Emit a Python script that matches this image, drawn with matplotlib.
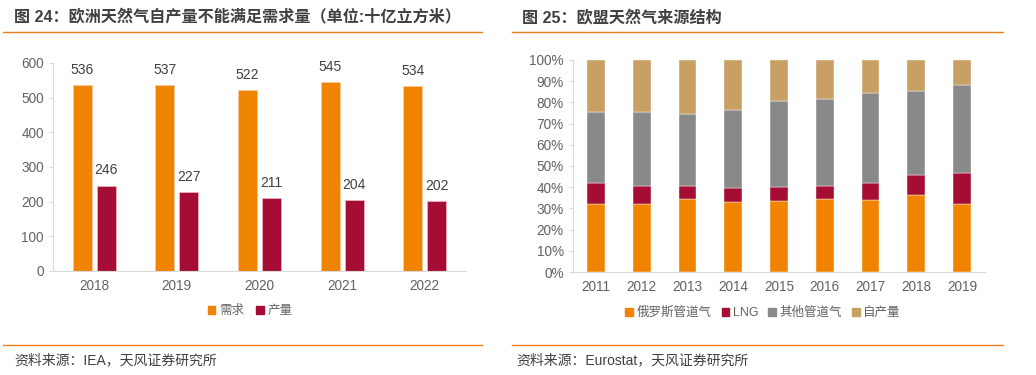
import matplotlib.pyplot as plt
from matplotlib.patches import Patch
from matplotlib.lines import Line2D
import numpy as np

plt.rcParams['font.family'] = ['Liberation Sans', 'Noto Sans CJK SC', 'DejaVu Sans']

# left chart data
years_l = ['2018', '2019', '2020', '2021', '2022']
demand = [536, 537, 522, 545, 534]
production = [246, 227, 211, 204, 202]

# right chart data (shares in %)
years_r = ['2011', '2012', '2013', '2014', '2015', '2016', '2017', '2018', '2019']
russia = [32.2, 32.2, 34.4, 33.0, 33.6, 34.2, 33.9, 36.1, 31.9]
lng = [10.0, 8.5, 6.4, 6.4, 6.7, 6.6, 8.2, 9.6, 14.7]
other_pipe = [33.5, 34.7, 33.9, 36.9, 40.2, 40.7, 42.5, 39.7, 41.6]
own_prod = [100 - a - b - c for a, b, c in zip(russia, lng, other_pipe)]

orange = '#F08300'
red = '#A50D34'
grey = '#898989'
tan = '#C8A064'
txt = '#636363'
line_c = '#EE7D1E'

W, H = 1036, 375
fig = plt.figure(figsize=(W / 100, H / 100), dpi=100)

def px(x0, y_top, w, h):
    return [x0 / W, (H - y_top - h) / H, w / W, h / H]

# titles, separators, sources
fig.text(14 / W, 1 - 17 / H, '图 24：欧洲天然气自产量不能满足需求量（单位:十亿立方米）',
         fontsize=11.6, fontweight='bold', color='#404040', va='center')
fig.text(522 / W, 1 - 17 / H, '图 25：欧盟天然气来源结构',
         fontsize=11.6, fontweight='bold', color='#404040', va='center')
for x0, x1 in [(3, 482), (512, 1003)]:
    for yy in [32, 345]:
        fig.add_artist(Line2D([x0 / W, x1 / W], [1 - yy / H, 1 - yy / H], color=line_c, lw=1.0))
fig.text(14 / W, 1 - 360 / H, '资料来源：IEA，天风证券研究所', fontsize=10, color='#404040', va='center')
fig.text(516 / W, 1 - 360 / H, '资料来源：Eurostat，天风证券研究所', fontsize=10, color='#404040', va='center')

def style(ax):
    for s in ['top', 'right']:
        ax.spines[s].set_visible(False)
    ax.spines['left'].set_color('#D9D9D9')
    ax.spines['bottom'].set_color('#D9D9D9')
    ax.tick_params(axis='y', colors='#D9D9D9', labelcolor=txt, labelsize=9.8, length=3)
    ax.tick_params(axis='x', length=0, labelcolor=txt, labelsize=9.8, pad=6)

# left chart
ax1 = fig.add_axes(px(53, 63, 413, 208))
x = np.arange(len(years_l))
w = 0.23
b1 = ax1.bar(x - 0.145, demand, w, color=orange, edgecolor='#F8C9A0', linewidth=0.6)
b2 = ax1.bar(x + 0.145, production, w, color=red, edgecolor='#E8B0BC', linewidth=0.6)
for rect, v in zip(list(b1) + list(b2), demand + production):
    ax1.text(rect.get_x() + rect.get_width() / 2, v + 24, str(v), ha='center', va='bottom',
             fontsize=10, color='#404040')
ax1.set_xlim(-0.5, len(years_l) - 0.5)
ax1.set_ylim(0, 600)
ax1.set_yticks(range(0, 601, 100))
ax1.set_xticks(x)
ax1.set_xticklabels(years_l)
style(ax1)
ax1.legend([Patch(color=orange), Patch(color=red)], ['需求', '产量'], loc='center',
           bbox_to_anchor=((250 - 53) / 413, -(311 - 271) / 208), ncol=2, frameon=False,
           fontsize=9, handlelength=0.6, handleheight=0.6, handletextpad=0.3, columnspacing=1.0,
           labelcolor=txt)

# right chart
ax2 = fig.add_axes(px(573, 60, 412, 212))
x2 = np.arange(len(years_r))
w2 = 0.39
bottom = np.zeros(len(years_r))
for vals, col in [(russia, orange), (lng, red), (other_pipe, grey), (own_prod, tan)]:
    ax2.bar(x2, vals, w2, bottom=bottom, color=col, edgecolor='white', linewidth=0.3)
    bottom += np.array(vals)
ax2.set_xlim(-0.5, len(years_r) - 0.5)
ax2.set_ylim(0, 100)
ax2.set_yticks(range(0, 101, 10))
ax2.set_yticklabels([f'{v}%' for v in range(0, 101, 10)])
ax2.set_xticks(x2)
ax2.set_xticklabels(years_r)
style(ax2)
ax2.legend([Patch(color=orange), Patch(color=red), Patch(color=grey), Patch(color=tan)],
           ['俄罗斯管道气', 'LNG', '其他管道气', '自产量'], loc='center',
           bbox_to_anchor=((763 - 573) / 412, -(313 - 272) / 212), ncol=4, frameon=False,
           fontsize=9, handlelength=0.6, handleheight=0.6, handletextpad=0.3, columnspacing=0.8,
           labelcolor=txt)

fig.savefig('out.png', dpi=100)
